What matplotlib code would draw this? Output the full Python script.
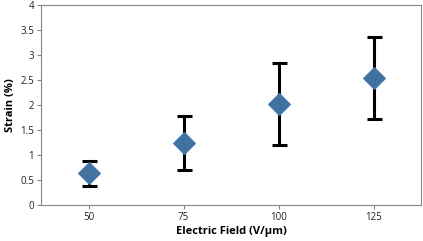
"""Strain vs electric field, diamond markers with error bars."""
import matplotlib.pyplot as plt

FIELD_LABELS = ["50", "75", "100", "125"]
STRAIN = [0.64, 1.24, 2.02, 2.54]
ERR_LOW = [0.39, 0.71, 1.21, 1.71]
ERR_HIGH = [0.89, 1.77, 2.83, 3.36]


def main() -> None:
    plt.rcParams["font.family"] = ["Open Sans", "DejaVu Sans"]
    fig = plt.figure(figsize=(4.23, 2.41), dpi=100)
    ax = fig.add_axes([41 / 423, 36 / 241, 380 / 423, 200 / 241])

    x = list(range(1, len(FIELD_LABELS) + 1))
    lower = [s - lo for s, lo in zip(STRAIN, ERR_LOW)]
    upper = [hi - s for s, hi in zip(STRAIN, ERR_HIGH)]
    ax.errorbar(
        x, STRAIN, yerr=[lower, upper], fmt="none",
        ecolor="black", elinewidth=2.2, capsize=5.4, capthick=2.2, zorder=2,
    )
    ax.plot(
        x, STRAIN, linestyle="none", marker="D", markersize=11.5,
        color="#41719f", markeredgecolor="#4a7bb0", markeredgewidth=0.8, zorder=3,
    )

    ax.set_xlim(0.5, 4.5)
    ax.set_ylim(0, 4)
    ax.set_xticks(x)
    ax.set_xticklabels(FIELD_LABELS)
    ax.set_yticks([0, 0.5, 1, 1.5, 2, 2.5, 3, 3.5, 4])
    ax.set_yticklabels(["0", "0.5", "1", "1.5", "2", "2.5", "3", "3.5", "4"])
    ax.tick_params(labelsize=7, colors="#868686", length=3, width=0.8,
                   labelcolor="#222222", pad=2)
    for spine in ax.spines.values():
        spine.set_color("#868686")
        spine.set_linewidth(0.8)

    ax.set_xlabel("Electric Field (V/µm)", fontsize=8, fontweight="bold", labelpad=2)
    ax.set_ylabel("Strain (%)", fontsize=8, fontweight="bold", labelpad=3)

    fig.savefig("out.png", dpi=100)
    plt.close(fig)


if __name__ == "__main__":
    main()
